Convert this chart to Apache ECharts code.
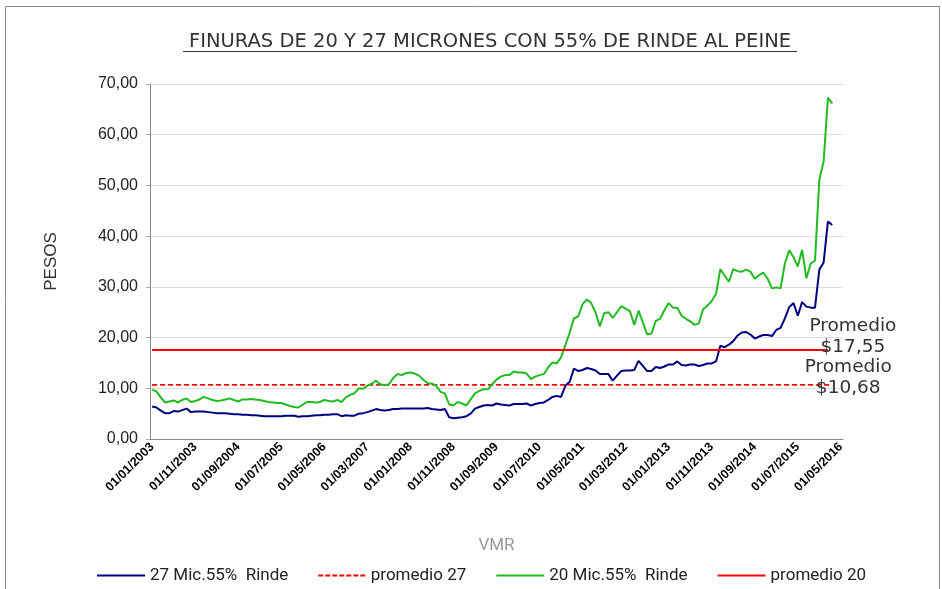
<!DOCTYPE html>
<html>
<head>
<meta charset="utf-8">
<script src="https://cdn.jsdelivr.net/npm/echarts@6/dist/echarts.min.js"></script>
<style>
  html, body { margin: 0; padding: 0; background: #fff; }
  #chart { width: 942px; height: 589px; }
</style>
</head>
<body>
<div id="chart"></div>
<script>
// monthly categories, 01/01/2003 .. 01/05/2016
const firstYear = 2003;
const monthCount = 161;
const categories = [];
for (let i = 0; i < monthCount; i++) {
  const m = (i % 12) + 1;
  const y = firstYear + Math.floor(i / 12);
  categories.push("01/" + (m < 10 ? "0" + m : m) + "/" + y);
}

// 27 micras, 55% rinde (Jan 2003 .. Mar 2016)
const mic27 = [
  6.4, 6.2, 5.6, 5.1, 5.1, 5.5, 5.4, 5.7, 6.0, 5.3,
  5.4, 5.4, 5.4, 5.3, 5.2, 5.1, 5.1, 5.1, 5.0, 4.9,
  4.9, 4.8, 4.8, 4.7, 4.7, 4.6, 4.5, 4.5, 4.5, 4.5,
  4.5, 4.6, 4.6, 4.6, 4.4, 4.5, 4.5, 4.6, 4.7, 4.7,
  4.8, 4.8, 4.9, 4.9, 4.5, 4.7, 4.6, 4.6, 5.0, 5.1,
  5.3, 5.6, 5.9, 5.7, 5.6, 5.7, 5.9, 5.9, 6.0, 6.0,
  6.0, 6.0, 6.0, 6.0, 6.1, 5.9, 5.8, 5.7, 5.9, 4.3,
  4.1, 4.2, 4.3, 4.5, 5.0, 6.0, 6.3, 6.6, 6.7, 6.6,
  7.0, 6.8, 6.7, 6.6, 6.9, 6.9, 6.9, 7.0, 6.6, 6.9,
  7.1, 7.2, 7.7, 8.3, 8.5, 8.3, 10.5, 11.3, 13.9, 13.4,
  13.6, 14.0, 13.8, 13.5, 12.8, 12.8, 12.8, 11.5, 12.5, 13.4,
  13.5, 13.5, 13.6, 15.4, 14.4, 13.4, 13.4, 14.2, 14.0, 14.3,
  14.7, 14.7, 15.3, 14.6, 14.5, 14.7, 14.7, 14.4, 14.6, 14.9,
  14.9, 15.3, 18.4, 18.1, 18.6, 19.3, 20.4, 21.0, 21.1, 20.6,
  19.8, 20.2, 20.5, 20.5, 20.3, 21.5, 21.9, 23.8, 26.0, 26.8,
  24.3, 27.0, 26.1, 25.9, 25.9, 33.4, 34.8, 42.9, 42.2
];

// 20 micras, 55% rinde
const mic20 = [
  9.7, 9.4, 8.2, 7.2, 7.4, 7.6, 7.2, 7.7, 8.0, 7.3,
  7.5, 7.8, 8.3, 8.0, 7.7, 7.5, 7.6, 7.8, 8.0, 7.7,
  7.4, 7.8, 7.8, 7.9, 7.8, 7.7, 7.5, 7.3, 7.2, 7.1,
  7.1, 6.8, 6.5, 6.3, 6.2, 6.8, 7.3, 7.3, 7.2, 7.3,
  7.7, 7.5, 7.4, 7.7, 7.3, 8.2, 8.7, 9.0, 10.0, 9.9,
  10.5, 10.9, 11.5, 10.8, 10.6, 10.8, 12.0, 12.8, 12.6, 13.0,
  13.1, 12.9, 12.5, 11.7, 11.0, 10.9, 10.5, 9.3, 9.0, 6.8,
  6.6, 7.3, 7.0, 6.6, 7.8, 9.0, 9.5, 9.8, 9.8, 10.8,
  11.7, 12.3, 12.6, 12.6, 13.3, 13.1, 13.1, 12.9, 11.8, 12.3,
  12.6, 12.8, 14.1, 15.1, 14.9, 16.1, 18.5, 21.0, 23.8, 24.2,
  26.6, 27.5, 26.8, 25.0, 22.2, 24.8, 25.0, 23.9, 25.0, 26.2,
  25.7, 25.2, 22.5, 25.3, 23.0, 20.6, 20.8, 23.3, 23.7, 25.4,
  26.8, 25.9, 25.9, 24.3, 23.7, 23.2, 22.5, 22.8, 25.6, 26.3,
  27.2, 28.6, 33.5, 32.2, 31.0, 33.5, 33.1, 33.0, 33.4, 33.0,
  31.6, 32.3, 32.8, 31.6, 29.7, 29.9, 29.7, 34.6, 37.2, 35.9,
  34.0, 37.3, 31.7, 34.6, 35.2, 51.1, 54.7, 67.3, 66.2
];

const promedio27 = 10.68;
const promedio20 = 17.55;
const promedio27Len = 159;
const promedio20Len = 158;

const yTicks = [0, 10, 20, 30, 40, 50, 60, 70];

const fmt = v => v.toFixed(2).replace(".", ",");
const flat = (v, n) => new Array(n).fill(v);

// legend icons: solid bar and a dashed bar
const solidIcon = "rect";
let dashIcon = "path://";
for (let i = 0; i < 7; i++) dashIcon += "M" + (i * 7) + ",0h5v2h-5z ";

const chart = echarts.init(document.getElementById("chart"));

chart.setOption({
  animation: false,
  title: {
    text: "FINURAS DE 20 Y 27 MICRONES CON 55% DE RINDE AL PEINE",
    left: 490,
    top: 32,
    padding: 0,
    textAlign: "center",
    textStyle: {
      fontFamily: "DejaVu Sans",
      fontWeight: "normal",
      fontSize: 19.5,
      color: "#333"
    }
  },
  graphic: [
    {
      type: "rect",
      shape: { x: 5.5, y: 6.5, width: 934, height: 620 },
      style: { fill: null, stroke: "#8a8a8a", lineWidth: 1 },
      silent: true
    },
    {
      type: "line",
      shape: { x1: 183, y1: 51.5, x2: 797, y2: 51.5 },
      style: { stroke: "#333", lineWidth: 1 },
      silent: true
    }
  ],
  grid: { left: 150, right: 99, top: 84, bottom: 150 },
  legend: {
    left: 92,
    top: 562,
    itemWidth: 48,
    itemHeight: 2,
    itemGap: 30,
    textStyle: { fontFamily: "Roboto, Liberation Sans", fontSize: 17, color: "#222" },
    data: [
      { name: "27 Mic.55%  Rinde", icon: solidIcon },
      { name: "promedio 27", icon: dashIcon },
      { name: "20 Mic.55%  Rinde", icon: solidIcon },
      { name: "promedio 20", icon: solidIcon }
    ]
  },
  xAxis: {
    type: "category",
    data: categories,
    boundaryGap: true,
    name: "VMR",
    nameLocation: "middle",
    nameGap: 98,
    nameTextStyle: { color: "#999", fontSize: 17, fontFamily: "Roboto, Liberation Sans" },
    axisLine: { lineStyle: { color: "#888" } },
    axisTick: { interval: 9, length: 4, lineStyle: { color: "#aaa" } },
    axisLabel: {
      interval: 9,
      rotate: 45,
      margin: 6,
      fontFamily: "Liberation Sans, Arial",
      fontWeight: "bold",
      fontSize: 12.5,
      color: "#000"
    },
    splitLine: { show: false }
  },
  yAxis: {
    type: "value",
    min: yTicks[0],
    max: yTicks[yTicks.length - 1],
    interval: yTicks[1] - yTicks[0],
    name: "PESOS",
    nameLocation: "middle",
    nameGap: 90,
    nameRotate: 90,
    nameTextStyle: { color: "#333", fontSize: 17, fontFamily: "Liberation Sans, Arial" },
    axisLine: { show: true, lineStyle: { color: "#888" } },
    axisTick: { show: true, length: 4, lineStyle: { color: "#aaa" } },
    axisLabel: {
      formatter: fmt,
      margin: 12,
      fontFamily: "Liberation Sans, Arial",
      fontSize: 16,
      color: "#222"
    },
    splitLine: { lineStyle: { color: "#dcdcdc" } }
  },
  series: [
    {
      name: "27 Mic.55%  Rinde",
      type: "line",
      data: mic27,
      symbol: "none",
      lineStyle: { color: "#000080", width: 2 },
      itemStyle: { color: "#000080" }
    },
    {
      name: "promedio 27",
      type: "line",
      data: flat(promedio27, promedio27Len),
      symbol: "none",
      lineStyle: { color: "#ff0000", width: 1.6, type: [5, 3] },
      itemStyle: { color: "#ff0000" },
      endLabel: {
        show: true,
        formatter: "Promedio\n$" + fmt(promedio27),
        align: "center",
        verticalAlign: "middle",
        distance: 0,
        offset: [16, -7],
        fontFamily: "DejaVu Sans",
        fontSize: 18.5,
        lineHeight: 21,
        color: "#333"
      }
    },
    {
      name: "20 Mic.55%  Rinde",
      type: "line",
      data: mic20,
      symbol: "none",
      lineStyle: { color: "#22bb22", width: 2 },
      itemStyle: { color: "#22bb22" }
    },
    {
      name: "promedio 20",
      type: "line",
      data: flat(promedio20, promedio20Len),
      symbol: "none",
      lineStyle: { color: "#ff0000", width: 2 },
      itemStyle: { color: "#ff0000" },
      endLabel: {
        show: true,
        formatter: "Promedio\n$" + fmt(promedio20),
        align: "center",
        verticalAlign: "middle",
        distance: 0,
        offset: [25, -13],
        fontFamily: "DejaVu Sans",
        fontSize: 18.5,
        lineHeight: 21,
        color: "#333"
      }
    }
  ]
});
</script>
</body>
</html>
